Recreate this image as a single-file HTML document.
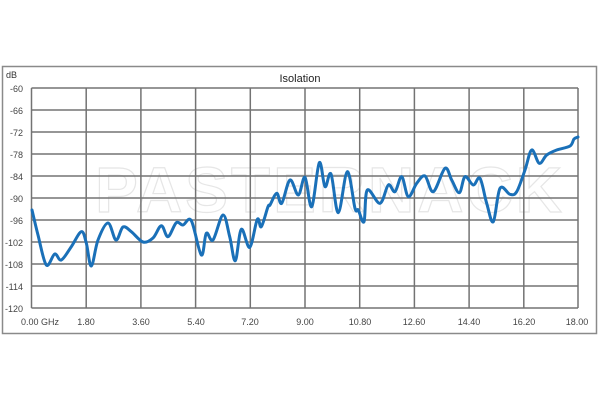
<!DOCTYPE html>
<html><head><style>body{margin:0;background:#fff}svg{display:block}</style></head><body>
<svg width="600" height="400" xmlns="http://www.w3.org/2000/svg" font-family="Liberation Sans, sans-serif">
<rect x="2.5" y="66.5" width="594" height="267" fill="#fff" stroke="#8a8a8a" stroke-width="1.5"/>
<text x="300" y="82" font-size="11" text-anchor="middle" fill="#222">Isolation</text>
<text x="6" y="78" font-size="9" fill="#333">dB</text>
<text x="330" y="212" font-size="64" font-weight="bold" text-anchor="middle" fill="none" stroke="#e6e6e6" stroke-width="1.2" letter-spacing="3">PASTERNACK</text>
<g stroke="#737373" stroke-width="1.5" fill="none">
<path d="M31.5 88H578M31.5 110H578M31.5 132H578M31.5 154H578M31.5 176H578M31.5 198H578M31.5 220H578M31.5 242H578M31.5 264H578M31.5 286H578M31.5 308H578"/>
<path d="M31.5 88V308M86.2 88V308M140.9 88V308M195.6 88V308M250.3 88V308M305 88V308M359.7 88V308M414.4 88V308M469.1 88V308M523.8 88V308M578 88V308"/>
</g>
<g font-size="9" fill="#444" text-anchor="end">
<text x="23" y="92">-60</text><text x="23" y="114">-66</text><text x="23" y="136">-72</text><text x="23" y="158">-78</text><text x="23" y="180">-84</text><text x="23" y="202">-90</text><text x="23" y="224">-96</text><text x="23" y="246">-102</text><text x="23" y="268">-108</text><text x="23" y="290">-114</text><text x="23" y="312">-120</text>
</g>
<g font-size="9" fill="#444" text-anchor="middle">
<text x="40" y="325">0.00 GHz</text><text x="86" y="325">1.80</text><text x="141" y="325">3.60</text><text x="196" y="325">5.40</text><text x="250" y="325">7.20</text><text x="305" y="325">9.00</text><text x="360" y="325">10.80</text><text x="414" y="325">12.60</text><text x="469" y="325">14.40</text><text x="524" y="325">16.20</text><text x="577" y="325">18.00</text>
</g>
<polyline id="ln" fill="none" stroke="#1a70b8" stroke-width="3" stroke-linejoin="round" stroke-linecap="round" points="32,210 38,235 46.3,265 54.7,254 61.3,260 71.3,246.7 81.3,231.7 86.3,243 91.3,266 98,240 108,223 116,240 123,227 131.3,231.7 143,242 153,238 161.3,225.7 168,236.7 176.3,222.7 183,225 191.3,220.7 201.3,255 206.3,233.3 213,240 223,215 229.7,236.7 235.3,260.7 241.3,229.3 249.7,247.3 257.3,219.3 261.3,226.7 268,206.7 270,205 276.7,193.3 281.7,203.3 290,180 298.3,195 305,177.3 311.7,206.7 319.3,162.7 325,186.7 331,174 338.3,212.7 347.3,171.7 355,208.3 358.3,210 364,221.7 367.3,190 380,203.3 388.3,185 395,191.7 401.7,176.7 408.3,196.7 416.7,183.3 425,176 433.3,191.7 445,168.3 451.7,180 459.3,192.7 465,176.7 473.3,185 480,178.3 486.7,203.3 493.3,221.7 500,188.3 510,194.3 516.7,191.7 525,170 531.7,150 539.3,163.3 546.7,155 556.7,150 570,146 574,139 578,137"/>
<path id="sm" fill="none" stroke="#1a70b8" stroke-width="3" stroke-linejoin="round" stroke-linecap="round" d=""/>
</svg>
<script>
(function(){var l=document.getElementById('ln');var p=l.getAttribute('points').trim().split(/\s+/).map(function(s){return s.split(',').map(Number)});
var d='M'+p[0][0]+' '+p[0][1];for(var i=0;i<p.length-1;i++){var a=p[i-1]||p[i],b=p[i],c=p[i+1],e=p[i+2]||c;var t=0.5/3;
d+=' C'+(b[0]+(c[0]-a[0])*t)+' '+(b[1]+(c[1]-a[1])*t)+' '+(c[0]-(e[0]-b[0])*t)+' '+(c[1]-(e[1]-b[1])*t)+' '+c[0]+' '+c[1];}
document.getElementById('sm').setAttribute('d',d);l.style.display='none';})();
</script>
</body></html>
